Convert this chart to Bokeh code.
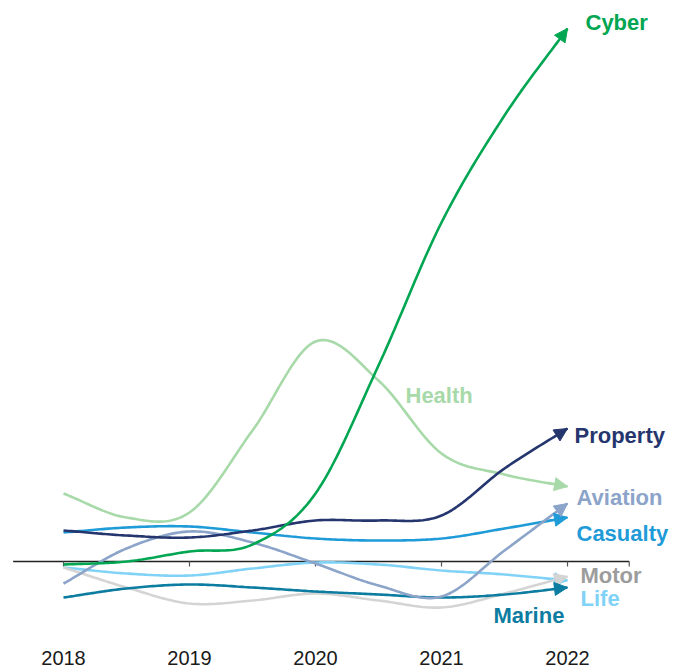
import numpy as np
from bokeh.plotting import figure
from bokeh.models import Range1d, Arrow, NormalHead
from bokeh.core.properties import value
from bokeh.embed import file_html
from bokeh.resources import INLINE

# ---------------- data (arbitrary index units) ----------------
years = [2018, 2018.5, 2019, 2019.5, 2020, 2020.5, 2021, 2021.5, 2022]
tick_years = [2018, 2019, 2020, 2021, 2022]
tick_labels = ["2018", "2019", "2020", "2021", "2022"]

names = ["Health", "Life", "Motor", "Marine", "Casualty", "Aviation", "Property", "Cyber"]

health   = [6.8, 4.4, 4.9, 13.1, 22.0, 18.1, 10.8, 8.7, 7.5]
life     = [-0.6, -1.2, -1.4, -0.7, -0.1, -0.3, -0.9, -1.3, -1.9]
motor    = [-0.6, -2.6, -4.2, -3.9, -3.2, -3.9, -4.6, -3.2, -1.5]
marine   = [-3.6, -2.7, -2.3, -2.6, -3.0, -3.3, -3.6, -3.3, -2.6]
casualty = [2.9, 3.4, 3.5, 2.9, 2.3, 2.1, 2.3, 3.3, 4.4]
aviation = [-2.2, 1.3, 3.0, 1.9, -0.2, -2.4, -3.5, 1.1, 5.8]
property_ = [3.1, 2.6, 2.4, 3.1, 4.1, 4.1, 4.6, 9.3, 13.3]
cyber    = [-0.3, 0.0, 1.0, 1.7, 6.8, 19.6, 33.9, 44.6, 53.3]

series = [health, life, motor, marine, casualty, aviation, property_, cyber]

# ---------------- styles ----------------
line_colors = ["#A8D9A9", "#80D2F6", "#D4D4D4", "#0D7CA1", "#1F9BD8", "#8CA4C9", "#25366F", "#00A651"]
text_colors = ["#A8D9A9", "#80D2F6", "#9C9C9C", "#0D7CA1", "#1F9BD8", "#8CA4C9", "#25366F", "#00A651"]
# label offsets in screen pixels from each series' end point
label_dx = [-162, 13, 13, -74, 9, 9, 7, 18]
label_dy = [-91, 18, -1, 28, 16, -6, 7, -6]

FONT = "Liberation Sans"


def smooth(xs, ys, n=24):
    """Cubic Hermite curve through the read points (for drawing only)."""
    xs = np.asarray(xs, float)
    ys = np.asarray(ys, float)
    m = np.gradient(ys, xs)
    ox, oy = [], []
    for i in range(len(xs) - 1):
        h = xs[i + 1] - xs[i]
        t = np.linspace(0, 1, n, endpoint=(i == len(xs) - 2))
        h00 = 2 * t**3 - 3 * t**2 + 1
        h10 = t**3 - 2 * t**2 + t
        h01 = -2 * t**3 + 3 * t**2
        h11 = t**3 - t**2
        ox.append(xs[i] + t * h)
        oy.append(h00 * ys[i] + h10 * h * m[i] + h01 * ys[i + 1] + h11 * h * m[i + 1])
    return np.concatenate(ox), np.concatenate(oy)


p = figure(
    frame_width=686, frame_height=668,
    x_range=Range1d(2017.5, 2017.5 + 686 / 126.0),
    y_range=Range1d(56.1 - 66.8, 56.1),
    output_backend="svg", toolbar_location=None,
    x_axis_location=None, y_axis_location=None, min_border=0,
    background_fill_color="white", border_fill_color="white",
)
p.outline_line_color = None
p.xgrid.visible = False
p.ygrid.visible = False

# zero line with ticks
p.segment(x0=[tick_years[0] - 0.4], y0=[0], x1=[tick_years[-1] + 0.49], y1=[0],
          line_color="#222222", line_width=1.3)
tick_pos = tick_years + [tick_years[-1] + 0.49]
p.segment(x0=tick_pos, y0=[0] * len(tick_pos), x1=tick_pos, y1=[-0.5] * len(tick_pos),
          line_color="#555555", line_width=1.2)

# year (category) labels along the bottom
p.text(x=tick_years, y=[0] * len(tick_years), text=tick_labels, y_offset=96,
       text_font=value(FONT), text_font_size="20px", text_color="#1a1a1a",
       text_align="center", text_baseline="middle")

for name, ys, lc, tc, dx, dy in zip(names, series, line_colors, text_colors, label_dx, label_dy):
    sx, sy = smooth(years, ys)
    p.line(sx, sy, line_color=lc, line_width=2.6)
    p.add_layout(Arrow(
        end=NormalHead(size=13, fill_color=lc, line_color=lc, line_width=1),
        x_start=sx[-3], y_start=sy[-3], x_end=sx[-1], y_end=sy[-1],
        line_alpha=0,
    ))
    p.text(x=[years[-1]], y=[ys[-1]], text=[name], x_offset=dx, y_offset=dy,
           text_font=value(FONT), text_font_style="bold", text_font_size="22px",
           text_color=tc, text_baseline="middle", text_align="left")

open("out.html", "w").write(file_html(p, INLINE))
